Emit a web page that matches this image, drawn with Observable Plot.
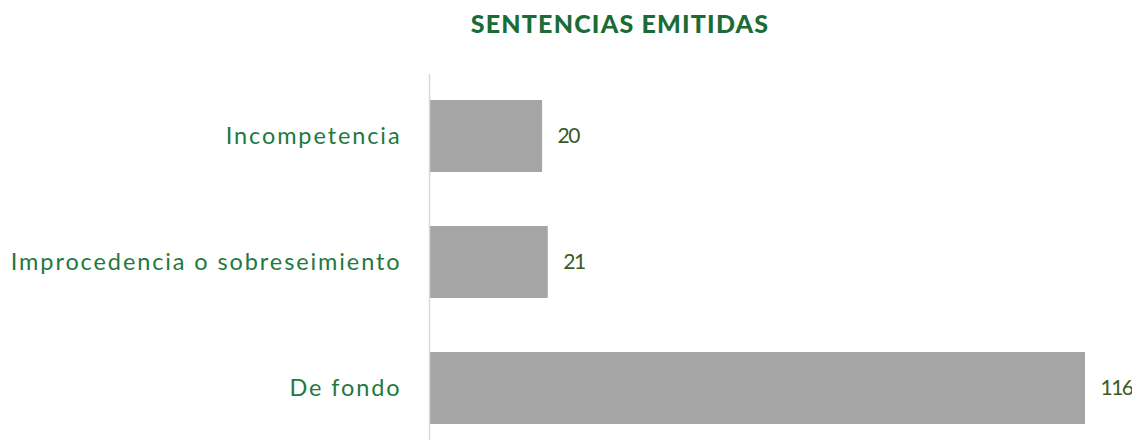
<!DOCTYPE html>
<html><head><meta charset="utf-8">
<script src="https://cdn.jsdelivr.net/npm/d3@7"></script>
<script src="https://cdn.jsdelivr.net/npm/@observablehq/plot@0.6"></script>
<style>
body{margin:0;background:#fff;font-family:Lato,"Open Sans",sans-serif;}
#wrap{position:relative;width:1132px;height:446px;overflow:hidden;}
#title{position:absolute;left:0;top:8px;width:1240px;text-align:center;font-weight:900;font-size:25px;color:#1b6b35;font-family:Lato,sans-serif;letter-spacing:1.2px;}
#chart{position:absolute;left:0;top:50px;}
#chart g[aria-label="y-axis tick label"] text{letter-spacing:1.9px;}
#chart g[aria-label="text"] text{letter-spacing:-1.5px;}
</style></head>
<body><div id="wrap"><div id="title">SENTENCIAS EMITIDAS</div><div id="chart"></div></div>
<script>
const categories = ["Incompetencia", "Improcedencia o sobreseimiento", "De fondo"];
const values = [20, 21, 116];
const data = categories.map((c, i) => ({cat: c, val: values[i]}));
const plot = Plot.plot({
  width: 1132, height: 396,
  marginLeft: 429, marginRight: 47, marginTop: 24, marginBottom: 6,
  style: {fontFamily: "Lato, 'Open Sans', sans-serif", background: "#fff"},
  x: {domain: [0, 116], axis: null},
  y: {domain: categories, range: [23, 401], paddingInner: 0.4286, paddingOuter: 0.2143, label: null},
  marks: [
    Plot.barX(data, {x: "val", y: "cat", fill: "#a5a5a5"}),
    Plot.ruleX([0], {stroke: "#d9d9d9", strokeWidth: 1.5}),
    Plot.text(data, {x: "val", y: "cat", text: d => String(d.val), dx: 15, textAnchor: "start", fill: "#3b5a23", fontSize: 21}),
    Plot.axisY({tickSize: 0, tickPadding: 28, fontSize: 23.5, color: "#1e7a3e", label: null})
  ]
});
document.getElementById("chart").appendChild(plot);
</script></body></html>
